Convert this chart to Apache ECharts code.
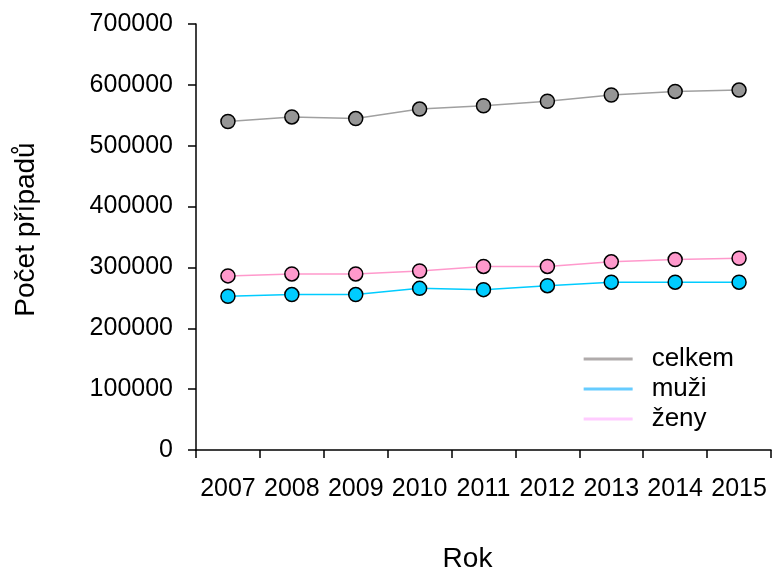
<!DOCTYPE html>
<html>
<head>
<meta charset="utf-8">
<script src="https://cdn.jsdelivr.net/npm/echarts@6/dist/echarts.min.js"></script>
<style>html,body{margin:0;padding:0;background:#fff}#c{width:774px;height:578px}</style>
</head>
<body>
<div id="c"></div>
<script>
var years = ['2007','2008','2009','2010','2011','2012','2013','2014','2015'];
var celkem = [539800, 547300, 544600, 560200, 565600, 573100, 583300, 589200, 591400];
var muzi = [252700, 255400, 255400, 265600, 263500, 270000, 275800, 275800, 275800];
var zeny = [286100, 289300, 289300, 294100, 301600, 301600, 309200, 312900, 315100];
var yTicks = [0, 100000, 200000, 300000, 400000, 500000, 600000, 700000];

var font = '"Liberation Sans", Arial, sans-serif';
var chart = echarts.init(document.getElementById('c'));
function ser(name, data, lineColor, fill) {
  return {
    name: name, type: 'line', data: data,
    symbol: 'circle', symbolSize: 14,
    lineStyle: {color: lineColor, width: 1.5},
    itemStyle: {color: fill, borderColor: '#000', borderWidth: 1.5},
    emphasis: {disabled: true},
    z: 3
  };
}
chart.setOption({
  animation: false,
  textStyle: {fontFamily: font},
  grid: {left: 196, right: 3, top: 24, bottom: 121, containLabel: false},
  legend: {
    right: 35, top: 341, orient: 'vertical', itemGap: 4,
    itemWidth: 49, itemHeight: 3, icon: 'rect',
    textStyle: {fontSize: 26, color: '#000', fontFamily: font, padding: [0, 0, 0, 14]},
    data: [
      {name: 'celkem', itemStyle: {color: '#B0ABAB', borderWidth: 0}},
      {name: 'muži', itemStyle: {color: '#66CCFF', borderWidth: 0}},
      {name: 'ženy', itemStyle: {color: '#FFCCFF', borderWidth: 0}}
    ]
  },
  xAxis: {
    type: 'category', data: years, boundaryGap: true,
    name: 'Rok', nameLocation: 'middle', nameGap: 95,
    nameTextStyle: {fontSize: 28, color: '#000', fontFamily: font, padding: [0, 32, 0, 0]},
    axisLine: {lineStyle: {color: '#000', width: 1.5}},
    axisTick: {show: true, length: 8, alignWithLabel: false, lineStyle: {color: '#000', width: 1.5}},
    axisLabel: {fontSize: 25, color: '#000', margin: 27, interval: 0, fontFamily: font},
    splitLine: {show: false}
  },
  yAxis: {
    type: 'value', min: 0, max: 700000, interval: 100000,
    name: 'Počet případů', nameLocation: 'middle', nameGap: 156, nameRotate: 90,
    nameTextStyle: {fontSize: 28, color: '#000', fontFamily: font, padding: [0, 0, 0, 15]},
    axisLine: {show: true, lineStyle: {color: '#000', width: 1.5}},
    axisTick: {show: true, length: 8, lineStyle: {color: '#000', width: 1.5}},
    axisLabel: {fontSize: 25, color: '#000', margin: 23, fontFamily: font,
      formatter: function (v) { return yTicks.indexOf(v) >= 0 ? String(v) : ''; }},
    splitLine: {show: false}
  },
  series: [
    ser('celkem', celkem, '#A0A0A0', '#969696'),
    ser('muži', muzi, '#00CCFF', '#00CCFF'),
    ser('ženy', zeny, '#FF99CC', '#FF99CC')
  ]
});
</script>
</body>
</html>
